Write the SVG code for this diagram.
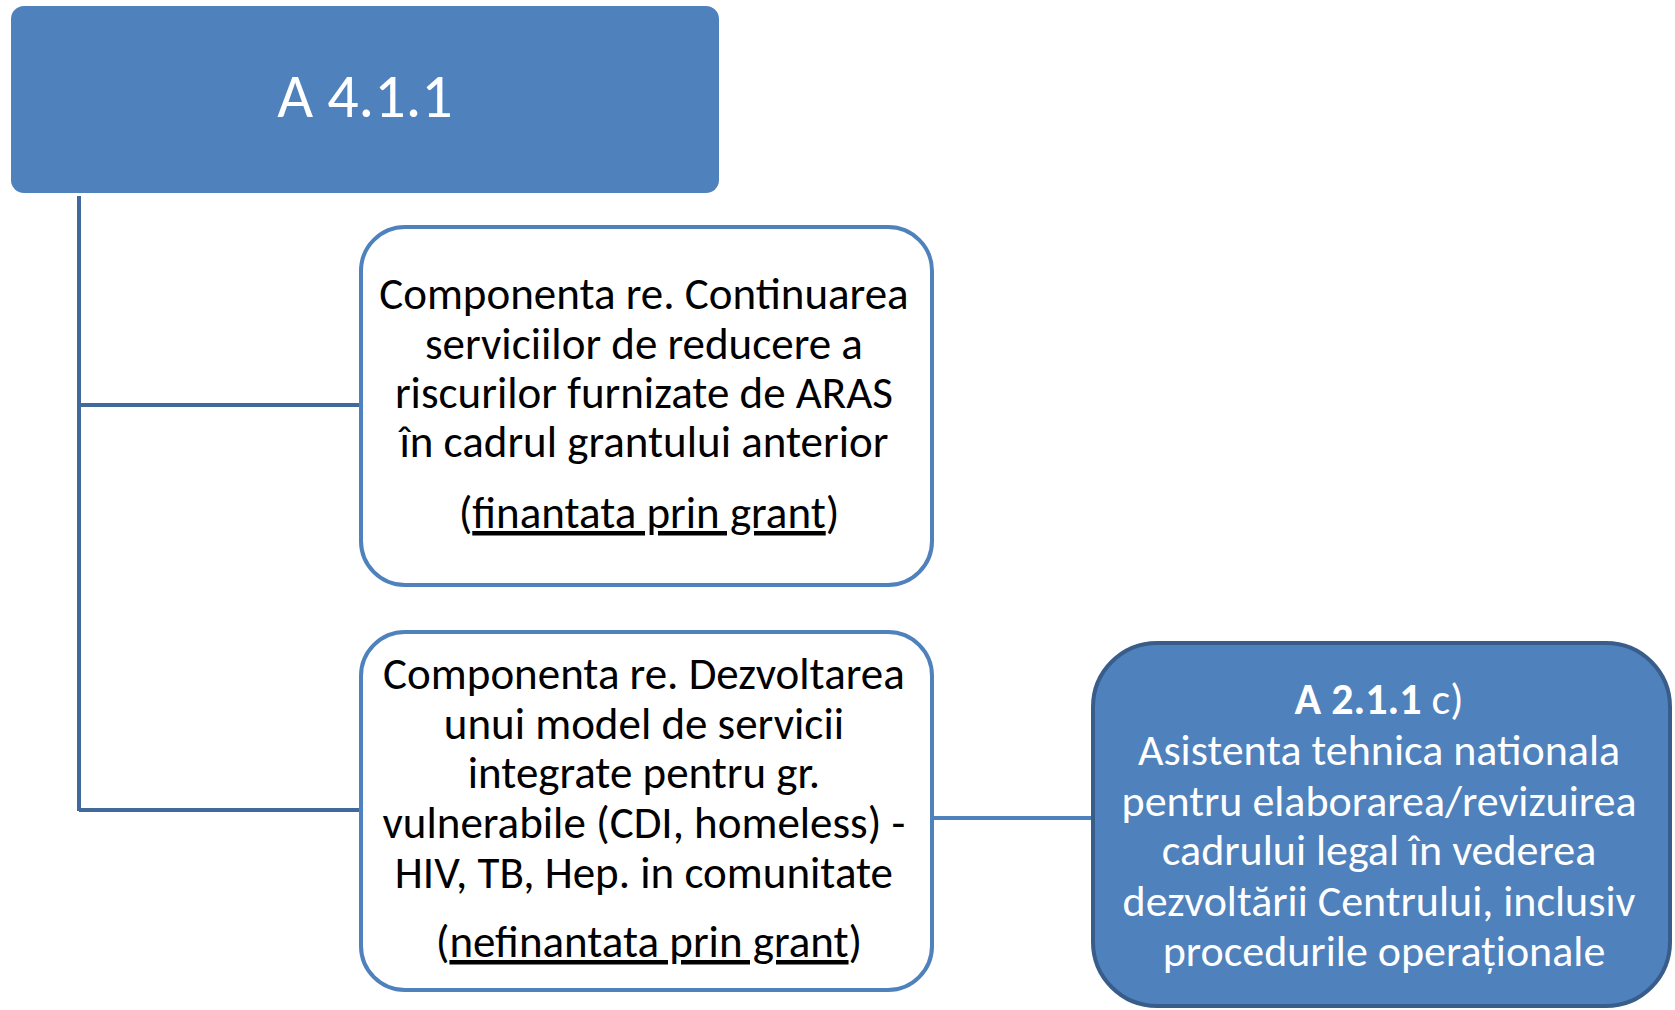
<svg xmlns="http://www.w3.org/2000/svg" width="1675" height="1010" viewBox="0 0 1675 1010">
<style>
.t{font-family:Carlito,Lato,"Liberation Sans",sans-serif;text-anchor:middle}
.dk{fill:#000;font-size:45px}
.wh{fill:#fff;font-size:44px}
.conn{stroke:#41699C;stroke-width:4;fill:none}
.conn2{stroke:#4F81BD;stroke-width:4;fill:none}
.u{text-decoration:underline}
</style>
<rect width="1675" height="1010" fill="#fff"/>
<g id="connectors">
<path class="conn" d="M79 196V811M79 405H361M79 810H361"/>
<path class="conn2" d="M932 818H1093"/>
</g>
<g id="top">
<rect x="11" y="6" width="708" height="187" rx="13" fill="#4F81BD"/>
<text class="t" x="365" y="117" fill="#fff" font-size="62">A 4.1.1</text>
</g>
<g id="comp1">
<rect x="361" y="227" width="571" height="358" rx="44" fill="#fff" stroke="#4F81BD" stroke-width="4"/>
<text class="t dk" x="649">
<tspan x="649" y="309">Componenta re. Continuarea</tspan>
<tspan x="649" y="359">serviciilor de reducere a</tspan>
<tspan x="649" y="408">riscurilor furnizate de ARAS</tspan>
<tspan x="649" y="457">în cadrul grantului anterior</tspan>
<tspan x="649" y="528">(<tspan class="u">finantata prin grant</tspan>)</tspan>
</text>
</g>
<g id="comp2">
<rect x="361" y="632" width="571" height="358" rx="44" fill="#fff" stroke="#4F81BD" stroke-width="4"/>
<text class="t dk" x="649">
<tspan x="649" y="689">Componenta re. Dezvoltarea</tspan>
<tspan x="649" y="739">unui model de servicii</tspan>
<tspan x="649" y="788">integrate pentru gr.</tspan>
<tspan x="649" y="838">vulnerabile (CDI, homeless) -</tspan>
<tspan x="649" y="888">HIV, TB, Hep. in comunitate</tspan>
<tspan x="649" y="957">(<tspan class="u">nefinantata prin grant</tspan>)</tspan>
</text>
</g>
<g id="a211c">
<rect x="1093" y="643" width="577" height="363" rx="64" fill="#4F81BD" stroke="#385D8A" stroke-width="4"/>
<text class="t wh" x="1384">
<tspan x="1384" y="714"><tspan font-weight="bold">A 2.1.1</tspan> c)</tspan>
<tspan x="1384" y="765">Asistenta tehnica nationala</tspan>
<tspan x="1384" y="816">pentru elaborarea/revizuirea</tspan>
<tspan x="1384" y="865">cadrului legal în vederea</tspan>
<tspan x="1384" y="916">dezvoltării Centrului, inclusiv</tspan>
<tspan x="1384" y="966">procedurile operaționale</tspan>
</text>
</g>
</svg>
